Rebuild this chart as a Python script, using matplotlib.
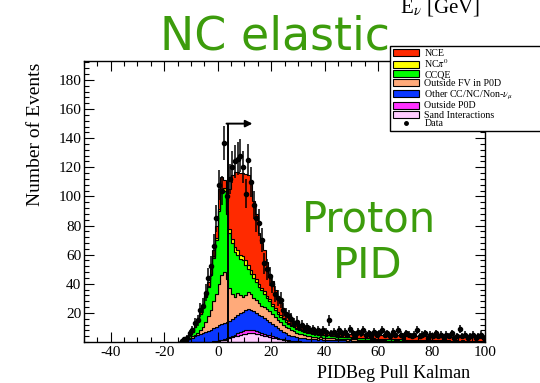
import numpy as np
import matplotlib.pyplot as plt
from matplotlib.patches import Patch
from matplotlib.lines import Line2D
from matplotlib.ticker import MultipleLocator

plt.rcParams['font.family'] = ['Liberation Serif', 'DejaVu Serif']
plt.rcParams['mathtext.fontset'] = 'stix'
plt.rcParams['axes.unicode_minus'] = False

# bin edges: 1 unit bins from -15 to 100
edges = np.arange(-15, 101, 1)

# per-bin event counts, bins -15..99
sand = ([0] * 12 +
        [0.2, 0.4, 0.6, 0.9, 1.2, 1.6, 2.0, 2.6, 3.2, 3.8, 4.4, 5.0, 5.5, 5.8, 6.0, 6.0,
         5.9, 5.7, 5.3, 4.9, 4.4, 3.9, 3.5, 3.1, 2.7, 2.3, 1.9, 1.6, 1.3, 1.0, 0.8, 0.6,
         0.5, 0.4, 0.3, 0.2, 0.2, 0.1, 0.1] +
        [0] * 64)
out_p0d = ([0] * 13 +
           [0.1, 0.2, 0.3, 0.4, 0.5, 0.6, 0.8, 1.0, 1.3, 1.6, 1.9, 2.1, 2.3, 2.3, 2.2, 2.1,
            1.9, 1.7, 1.5, 1.3, 1.1, 1.0, 0.8, 0.7, 0.6, 0.5, 0.4, 0.3, 0.3, 0.2, 0.2, 0.1, 0.1] +
           [0] * 69)
other = [0, 0.2, 0.5, 1.0, 1.8, 2.8, 3.8, 4.8, 5.8, 6.5, 7.0, 7.5, 8.3, 9.0, 9.7,
         10.3, 10.9, 11.1, 11.2, 11.1, 11.3, 11.9, 12.5, 12.9, 13.2, 13.7, 14.2, 13.8, 13.0, 12.4,
         11.8, 11.2, 10.8, 10.0, 9.3, 8.6, 7.6, 6.6, 5.6, 5.0, 4.4, 3.7, 3.3, 3.0, 2.8,
         2.5, 2.5, 2.4, 2.2, 2.1, 1.9,
         1.8, 1.7, 1.8, 1.6, 1.5, 1.6, 1.4, 1.3, 1.4, 1.2,
         1.1, 1.2, 1.0, 1.1, 0.9, 1.0, 0.9, 0.8, 0.9, 0.8,
         0.8, 0.7, 0.8, 0.7, 0.6, 0.7, 0.6, 0.6, 0.5, 0.6,
         0.5, 0.6, 0.5, 0.5, 0.4, 0.5, 0.4, 0.5, 0.4, 0.4,
         0.4, 0.3, 0.4, 0.3, 0.4, 0.3, 0.3, 0.4, 0.3, 0.3,
         0.3, 0.2, 0.3, 0.3, 0.2, 0.3, 0.2, 0.2, 0.3, 0.2,
         0.2, 0.2, 0.1, 0.2]
out_fv = [0, 0.1, 0.3, 0.6, 0.8, 1.0, 1.2, 1.7, 2.2, 4.0, 7.0, 10.5, 13.5, 18.5, 22.5,
          28.5, 33.5, 34.8, 29.2, 22.5, 17.5, 14.0, 15.0, 12.2, 10.2, 10.2, 12.0, 11.0, 9.0, 9.0,
          8.2, 7.4, 7.5, 7.5, 7.2, 6.5, 6.0, 5.5, 5.5, 5.0, 4.5, 4.5, 4.2, 3.7, 3.1,
          2.8, 2.4, 2.1, 1.9, 1.7, 1.6,
          1.5, 1.4, 1.5, 1.3, 1.2, 1.3, 1.1, 1.2, 1.0, 1.1,
          1.0, 0.9, 1.0, 0.8, 0.9, 0.8, 0.7, 0.8, 0.7, 0.6,
          0.7, 0.6, 0.6, 0.5, 0.6, 0.5, 0.5, 0.4, 0.5, 0.4,
          0.4, 0.5, 0.4, 0.4, 0.3, 0.4, 0.3, 0.3, 0.4, 0.3,
          0.3, 0.3, 0.2, 0.3, 0.3, 0.2, 0.3, 0.2, 0.2, 0.3,
          0.2, 0.2, 0.2, 0.3, 0.2, 0.2, 0.2, 0.1, 0.2, 0.2,
          0.2, 0.1, 0.2, 0.1]
ccqe = [0.1, 0.2, 0.4, 0.9, 1.9, 3.2, 5.5, 7.5, 11.0, 13.5, 17.0, 20.0, 24.0, 30.0, 37.0,
        50.0, 57.0, 56.0, 45.0, 38.0, 35.0, 31.0, 26.5, 25.0, 25.0, 21.0, 15.5, 14.0, 14.0, 12.0,
        11.0, 10.5, 9.0, 7.5, 7.0, 6.0, 5.0, 4.5, 4.0, 3.5, 3.5, 3.0, 2.5, 2.5, 2.5,
        2.4, 2.3, 2.3, 2.2, 2.1, 2.0,
        1.9, 1.8, 2.0, 1.7, 1.6, 1.8, 1.6, 1.5, 1.6, 1.4,
        1.5, 1.3, 1.4, 1.3, 1.2, 1.3, 1.2, 1.1, 1.2, 1.1,
        1.0, 1.1, 1.0, 1.0, 0.9, 1.0, 0.9, 0.9, 0.8, 0.9,
        0.8, 0.8, 0.9, 0.7, 0.8, 0.7, 0.8, 0.7, 0.7, 0.6,
        0.7, 0.6, 0.7, 0.6, 0.6, 0.5, 0.6, 0.5, 0.6, 0.5,
        0.5, 0.5, 0.6, 0.4, 0.5, 0.5, 0.4, 0.5, 0.4, 0.4,
        0.4, 0.4, 0.3, 0.4]
ncpi0 = ([0] * 7 +
         [0.2, 0.3, 0.5, 0.6, 0.8, 1.0, 1.2, 1.5, 1.5, 1.5, 1.8, 2.0, 2.5, 3.0, 3.5, 3.5,
          3.0, 3.2, 3.0, 2.8, 2.5, 2.5, 2.2, 2.0, 1.9, 1.8, 1.6, 1.5, 1.4, 1.3, 1.2, 1.1,
          1.0, 0.9, 0.8, 0.8, 0.7, 0.7, 0.6, 0.6, 0.55, 0.5, 0.5, 0.5,
          0.5, 0.4, 0.5, 0.4, 0.4, 0.4, 0.3, 0.4, 0.3, 0.3,
          0.3, 0.3, 0.3, 0.3, 0.3, 0.2, 0.3, 0.2, 0.3, 0.2,
          0.2, 0.2, 0.2, 0.2, 0.2, 0.2, 0.2, 0.2, 0.2, 0.2,
          0.2, 0.2, 0.1, 0.2, 0.2, 0.1, 0.2, 0.1, 0.2, 0.1,
          0.1, 0.2, 0.1, 0.1, 0.1, 0.1, 0.1, 0.1, 0.1, 0.1,
          0.1, 0.1, 0.1, 0.1, 0.1, 0.1, 0.1, 0.1, 0.1, 0.1,
          0.1, 0.1, 0.1, 0.1])
nce = [0.1, 0.3, 0.6, 0.7, 1.0, 1.5, 1.5, 1.8, 1.7, 1.5, 1.4, 2.2, 3.0, 3.8, 8.5,
       13.5, 8.5, 5.2, 7.0, 27.5, 44.0, 51.5, 53.5, 56.0, 56.8, 59.5, 62.2, 59.0, 50.5, 44.8,
       35.0, 30.6, 28.2, 23.4, 17.5, 15.6, 12.7, 10.3, 8.4, 6.5, 5.1, 4.2, 3.7, 3.3, 2.8,
       2.7, 2.4, 2.25, 2.1, 2.0, 2.0,
       2.2, 2.0, 2.3, 2.1, 2.2, 2.0, 2.3, 2.1, 2.0, 2.3,
       2.2, 2.4, 2.1, 2.3, 2.5, 2.2, 2.4, 2.6, 2.3, 2.5,
       2.6, 2.4, 2.7, 2.5, 2.6, 2.4, 2.6, 2.5, 2.7, 2.4,
       2.5, 2.6, 2.4, 2.6, 2.5, 2.7, 2.4, 2.6, 2.5, 2.6,
       2.5, 2.4, 2.6, 2.5, 2.4, 2.6, 2.5, 2.4, 2.5, 2.6,
       2.4, 2.5, 2.3, 2.5, 2.4, 2.3, 2.5, 2.4, 2.3, 2.4,
       2.3, 2.4, 2.2, 2.3]
data = [0, 1, 2, 3, 6, 8, 13, 15, 22, 25, 34, 44, 52, 66, 85,
        108, 104, 137, 100, 112, 120, 124, 126, 128, 120, 102, 125, 110, 94, 85, 82, 70,
        54, 50, 45, 40, 33, 30, 29, 22, 19, 18, 16, 13, 14, 11, 12, 9, 10, 8, 9,
        7, 8, 6, 8, 7, 15, 6, 7, 5, 8, 6, 7, 5, 9, 6, 5, 7, 6, 8, 5,
        6, 4, 7, 5, 6, 8, 5, 6, 4, 7, 5, 8, 5, 4, 6, 5, 4, 5, 8, 4,
        5, 6, 3, 5, 4, 6, 4, 5, 3, 5, 4, 6, 3, 4, 9, 4, 5, 3, 4, 5,
        3, 4, 5, 3]

components = [
    (sand, '#ffccff', 'Sand Interactions'),
    (out_p0d, '#ff33ff', 'Outside P0D'),
    (other, '#0a37ff', r'Other CC/NC/Non-$\nu_{\mu}$'),
    (out_fv, '#ffaa7a', 'Outside FV in P0D'),
    (ccqe, '#00ff00', 'CCQE'),
    (ncpi0, '#ffff00', r'NC$\pi^{0}$'),
    (nce, '#ff2a00', 'NCE'),
]

fig = plt.figure(figsize=(5.4, 3.83), dpi=100)
ax = fig.add_axes([0.1556, 0.107, 0.7426, 0.7337])

base = np.zeros(len(edges) - 1)
for vals, col, lab in components:
    vals = np.array(vals, dtype=float)
    ax.stairs(base + vals, edges, baseline=base.copy(), fill=True,
              facecolor=col, edgecolor='black', linewidth=0.8)
    base = base + vals

# data points with poisson errors
centers = 0.5 * (edges[:-1] + edges[1:])
d = np.array(data, dtype=float)
m = d > 0
ax.errorbar(centers[m], d[m], yerr=np.sqrt(d[m]), fmt='o', color='black',
            markersize=3, elinewidth=1.1, capsize=0)

# cut line and arrow
ax.plot([4, 4], [0, 150], color='black', lw=1.4)
ax.annotate('', xy=(13, 150), xytext=(3.3, 150),
            arrowprops=dict(arrowstyle='-|>', color='black', lw=1.4,
                            mutation_scale=10, shrinkA=0, shrinkB=0))

ax.set_xlim(-50, 100)
ax.set_ylim(0, 193)
ax.set_xticks(np.arange(-40, 101, 20))
ax.set_yticks(np.arange(20, 181, 20))
ax.xaxis.set_minor_locator(MultipleLocator(5))
ax.yaxis.set_minor_locator(MultipleLocator(4))
ax.tick_params(which='both', direction='in', top=True, right=True, labelsize=11)
ax.tick_params(which='major', length=7, width=0.8)
ax.tick_params(which='minor', length=3.5, width=0.8)
ax.tick_params(axis='x', pad=3)
ax.tick_params(axis='y', pad=2)
for s in ax.spines.values():
    s.set_linewidth(1.0)

fig.text(35 / 540, 1 - 134 / 383, 'Number of Events', rotation=90,
         ha='center', va='center', fontsize=14)
fig.text(470 / 540, 1 - 378 / 383, 'PIDBeg Pull Kalman', ha='right',
         va='baseline', fontsize=13)
fig.text(400 / 540, 1 - 13 / 383, r'E$_{\nu}$ [GeV]', ha='left',
         va='baseline', fontsize=15)

green = '#3c9c0c'
fig.text(160 / 540, 1 - 49 / 383, 'NC elastic', color=green, fontsize=33,
         family='DejaVu Sans', ha='left', va='baseline')
fig.text(369 / 540, 1 - 232 / 383, 'Proton', color=green, fontsize=30,
         family='DejaVu Sans', ha='center', va='baseline')
fig.text(368 / 540, 1 - 278 / 383, 'PID', color=green, fontsize=30,
         family='DejaVu Sans', ha='center', va='baseline')

# legend, box runs past the right edge like the original
handles = [Patch(facecolor=c, edgecolor='black', linewidth=0.8) for _, c, _ in components[::-1]]
labels = [lab for _, _, lab in components[::-1]]
handles.append(Line2D([], [], marker='o', color='black', linestyle='none', markersize=2.5))
labels.append('Data')
fig.legend(handles, labels, loc='upper left',
           bbox_to_anchor=(390 / 540, 1 - 132 / 383, 170 / 540, 86 / 383),
           mode='expand', fontsize=7.2, frameon=True, fancybox=False,
           edgecolor='black', framealpha=1, borderpad=0.25, labelspacing=0.0,
           handlelength=2.6, handleheight=0.7, handletextpad=0.6, borderaxespad=0)

fig.savefig('out.png', dpi=100)
